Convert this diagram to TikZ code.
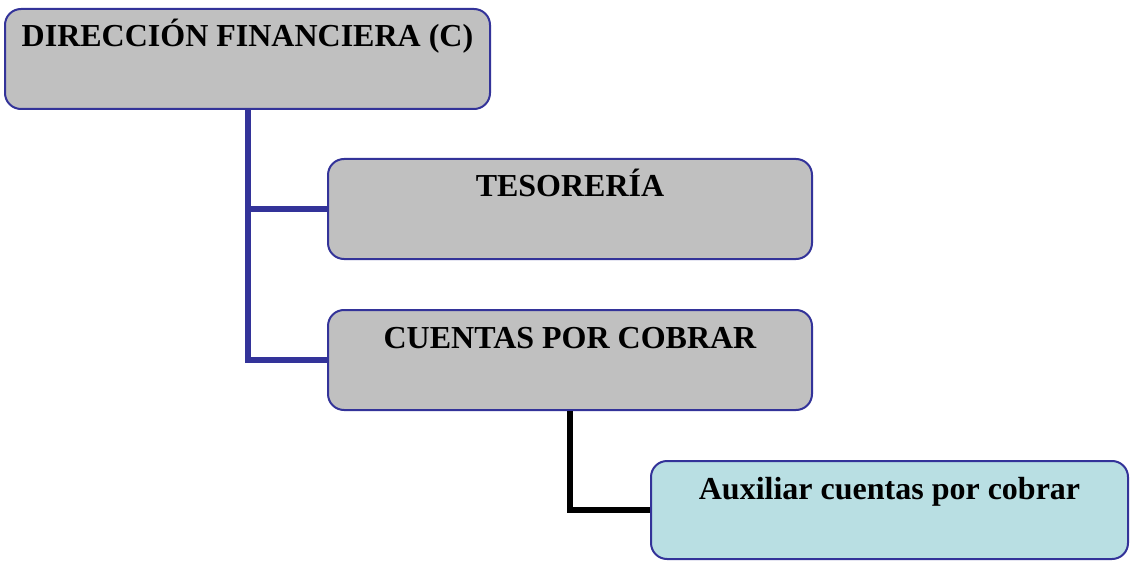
\documentclass[tikz,border=0pt]{standalone}
\usepackage{fontspec}
\setmainfont{Liberation Serif}
\definecolor{boxgray}{HTML}{C0C0C0}
\definecolor{boxline}{HTML}{333399}
\definecolor{auxblue}{HTML}{B9DFE3}
\begin{document}
\begin{tikzpicture}[x=1pt,y=-1pt]

      \useasboundingbox (0,0) rectangle (1131,561);

      \begin{scope}[every node/.style={draw=boxline,line width=2pt,rounded corners=16pt,
          fill=boxgray,inner sep=0pt,anchor=north west,text height=38pt,text depth=62pt,
          font=\bfseries\fontsize{32}{36}\selectfont}]
        \node[minimum width=485pt] (dir) at (4,8)   {DIRECCIÓN FINANCIERA (C)};
        \node[minimum width=484pt] (tes) at (327,158) {TESORERÍA};
        \node[minimum width=484pt] (cxc) at (327,309) {CUENTAS POR COBRAR};
        \node[minimum width=477pt,fill=auxblue,text depth=60pt] (aux) at (650,460) {Auxiliar cuentas por cobrar};
      \end{scope}

      \begin{scope}[every edge/.style={draw,line width=6pt},
          elbow/.style={to path={|- (\tikztotarget)}}]
        \path (dir.south) edge[elbow,boxline] (tes.west);
        \path (dir.south) edge[elbow,boxline] (cxc.west);
        \path (cxc.south) edge[elbow,black]   (aux.west);
      \end{scope}

    \end{tikzpicture}
\end{document}
